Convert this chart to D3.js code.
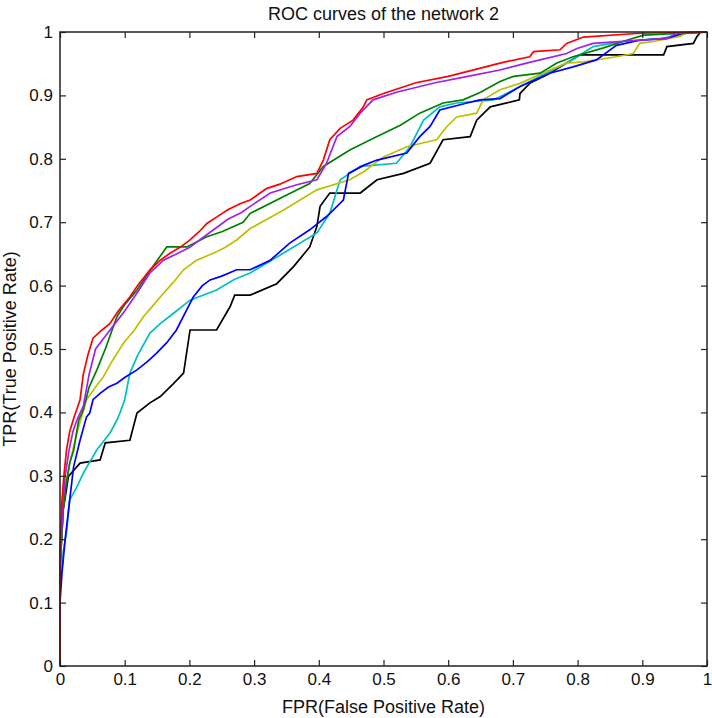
<!DOCTYPE html>
<html><head><meta charset="utf-8">
<script src="https://cdn.jsdelivr.net/npm/d3@7/dist/d3.min.js"></script>
<style>body{margin:0;background:#fff}svg{display:block}text{font-family:"Liberation Sans",Arial,sans-serif;fill:#111}</style>
</head><body>
<svg id="chart" width="712" height="718"></svg>
<script>
const titleText = "ROC curves of the network 2";
const xLabel = "FPR(False Positive Rate)";
const yLabel = "TPR(True Positive Rate)";
const tickValues = [0,0.1,0.2,0.3,0.4,0.5,0.6,0.7,0.8,0.9,1];
const tickLabels = ["0","0.1","0.2","0.3","0.4","0.5","0.6","0.7","0.8","0.9","1"];

const seriesNames = ["black","cyan","yellow","blue","green","magenta","red"];
const seriesColors = ["#000000","#00bfbf","#bfbf00","#0000ff","#008000","#a020f0","#ff0000"];

const blackCurve = [[0,0],[0,.157],[.005,.246],[.013,.299],[.031,.32],[.062,.325],[.07,.352],[.108,.356],[.119,.399],[.139,.415],[.155,.425],[.175,.445],[.191,.462],[.201,.53],[.242,.53],[.263,.567],[.27,.585],[.294,.585],[.335,.603],[.361,.63],[.386,.661],[.397,.693],[.402,.725],[.417,.746],[.464,.746],[.49,.767],[.531,.777],[.572,.793],[.592,.83],[.634,.835],[.644,.861],[.665,.882],[.71,.893],[.711,.903],[.726,.919],[.752,.932],[.783,.951],[.804,.964],[.933,.964],[.938,.977],[.979,.982],[.984,.992],[.99,1],[1,1]];
const cyanCurve = [[0,0],[0,.12],[.005,.18],[.01,.21],[.015,.262],[.025,.28],[.036,.304],[.045,.32],[.057,.341],[.077,.367],[.088,.388],[.093,.4],[.1,.42],[.108,.462],[.12,.49],[.139,.525],[.155,.54],[.175,.556],[.201,.577],[.242,.593],[.27,.61],[.294,.62],[.345,.651],[.397,.683],[.417,.714],[.433,.767],[.464,.788],[.52,.793],[.541,.819],[.562,.861],[.587,.882],[.613,.888],[.67,.893],[.68,.898],[.742,.93],[.79,.955],[.824,.977],[.87,.985],[.93,.99],[.97,.998],[1,1]];
const yellowCurve = [[0,0],[0,.15],[.004,.24],[.008,.28],[.015,.32],[.026,.367],[.041,.42],[.055,.44],[.067,.456],[.08,.48],[.098,.509],[.115,.53],[.129,.551],[.145,.57],[.16,.588],[.175,.605],[.191,.625],[.211,.64],[.237,.651],[.255,.66],[.273,.672],[.294,.69],[.345,.719],[.397,.751],[.448,.767],[.47,.78],[.5,.803],[.536,.819],[.582,.83],[.598,.851],[.613,.866],[.644,.872],[.654,.893],[.68,.909],[.711,.919],[.757,.94],[.783,.951],[.809,.953],[.86,.961],[.886,.966],[.896,.982],[.917,.985],[.958,.993],[.97,1],[1,1]];
const blueCurve = [[0,0],[0,.1],[.003,.146],[.008,.2],[.015,.262],[.021,.314],[.031,.356],[.041,.393],[.046,.399],[.051,.42],[.062,.43],[.075,.44],[.088,.446],[.1,.455],[.119,.467],[.135,.48],[.149,.493],[.165,.51],[.18,.53],[.195,.56],[.206,.582],[.22,.6],[.232,.609],[.25,.615],[.273,.625],[.294,.625],[.325,.64],[.355,.667],[.386,.688],[.412,.709],[.438,.735],[.446,.777],[.47,.79],[.49,.798],[.536,.809],[.556,.835],[.572,.851],[.587,.877],[.629,.888],[.649,.893],[.68,.895],[.711,.914],[.757,.935],[.793,.945],[.829,.956],[.86,.979],[.896,.987],[.938,.99],[.963,.998],[1,1]];
const greenCurve = [[0,0],[0,.15],[.005,.25],[.01,.29],[.015,.32],[.021,.34],[.029,.388],[.036,.404],[.045,.44],[.057,.467],[.07,.5],[.088,.551],[.1,.57],[.119,.593],[.14,.625],[.165,.661],[.196,.661],[.227,.677],[.25,.685],[.283,.7],[.294,.714],[.345,.74],[.386,.761],[.407,.788],[.448,.814],[.49,.835],[.526,.853],[.556,.872],[.592,.888],[.623,.893],[.65,.905],[.68,.922],[.701,.93],[.742,.935],[.768,.951],[.793,.961],[.84,.975],[.876,.987],[.902,.995],[1,1]];
const magentaCurve = [[0,0],[0,.15],[.004,.25],[.008,.3],[.014,.34],[.02,.37],[.027,.39],[.036,.41],[.045,.46],[.055,.5],[.07,.52],[.085,.54],[.1,.56],[.12,.59],[.139,.62],[.16,.64],[.18,.65],[.2,.66],[.22,.675],[.24,.69],[.26,.705],[.28,.715],[.294,.725],[.325,.746],[.366,.759],[.397,.767],[.412,.793],[.428,.835],[.448,.851],[.464,.872],[.484,.893],[.52,.905],[.58,.92],[.63,.93],[.68,.94],[.721,.951],[.742,.956],[.783,.966],[.799,.974],[.824,.982],[.938,.99],[.953,.998],[1,1]];
const redCurve = [[0,0],[0,.18],[.003,.26],[.006,.3],[.01,.34],[.015,.37],[.021,.39],[.031,.42],[.036,.46],[.043,.49],[.051,.517],[.065,.53],[.077,.54],[.09,.56],[.108,.582],[.12,.6],[.139,.625],[.155,.64],[.17,.651],[.185,.66],[.201,.672],[.215,.685],[.227,.698],[.245,.71],[.26,.72],[.28,.73],[.294,.735],[.319,.753],[.34,.76],[.366,.772],[.397,.777],[.407,.798],[.417,.83],[.433,.848],[.453,.861],[.469,.882],[.474,.893],[.5,.903],[.55,.92],[.6,.93],[.65,.943],[.68,.951],[.726,.961],[.732,.969],[.773,.972],[.783,.982],[.809,.992],[.896,.998],[1,1]];
const curves = [blackCurve,cyanCurve,yellowCurve,blueCurve,greenCurve,magentaCurve,redCurve];

const svg = d3.select("#chart");
const L = 60, R = 707, T = 32, B = 666;
const x = d3.scaleLinear().domain([0,1]).range([L,R]);
const y = d3.scaleLinear().domain([0,1]).range([B,T]);

// curves
const line = d3.line().x(d=>x(d[0])).y(d=>y(d[1]));
const g = svg.append("g");
curves.forEach((c,i)=>{
  g.append("path").datum(c).attr("d",line).attr("fill","none")
   .attr("stroke",seriesColors[i]).attr("stroke-width",1.7).attr("stroke-linejoin","miter");
});

// axes (ticks inward on all sides)
const fmt = (d)=>tickLabels[tickValues.indexOf(d)];
function styleAxis(sel){
  sel.select(".domain").remove();
  sel.selectAll("line").attr("stroke","#222").attr("stroke-width",1.2);
  sel.selectAll("text").attr("font-size",17).attr("fill","#111")
     .attr("font-family","'Liberation Sans',Arial,sans-serif");
}
svg.append("g").attr("transform",`translate(0,${B})`)
  .call(d3.axisBottom(x).tickValues(tickValues).tickFormat(fmt).tickSizeInner(-6).tickSizeOuter(0).tickPadding(7))
  .call(styleAxis);
svg.append("g").attr("transform",`translate(0,${T})`)
  .call(d3.axisTop(x).tickValues(tickValues).tickFormat("").tickSizeInner(-6).tickSizeOuter(0))
  .call(styleAxis);
svg.append("g").attr("transform",`translate(${L},0)`)
  .call(d3.axisLeft(y).tickValues(tickValues).tickFormat(fmt).tickSizeInner(-6).tickSizeOuter(0).tickPadding(7))
  .call(styleAxis);
svg.append("g").attr("transform",`translate(${R},0)`)
  .call(d3.axisRight(y).tickValues(tickValues).tickFormat("").tickSizeInner(-6).tickSizeOuter(0))
  .call(styleAxis);

// box
svg.append("rect").attr("x",L).attr("y",T).attr("width",R-L).attr("height",B-T)
  .attr("fill","none").attr("stroke","#222").attr("stroke-width",1.5);

// labels
svg.append("text").attr("x",(L+R)/2).attr("y",20).attr("text-anchor","middle")
  .attr("font-size",18).text(titleText);
svg.append("text").attr("x",(L+R)/2).attr("y",713).attr("text-anchor","middle")
  .attr("font-size",18).text(xLabel);
svg.append("text").attr("transform",`translate(16,${(T+B)/2}) rotate(-90)`).attr("text-anchor","middle")
  .attr("font-size",18).text(yLabel);
</script>
</body></html>
